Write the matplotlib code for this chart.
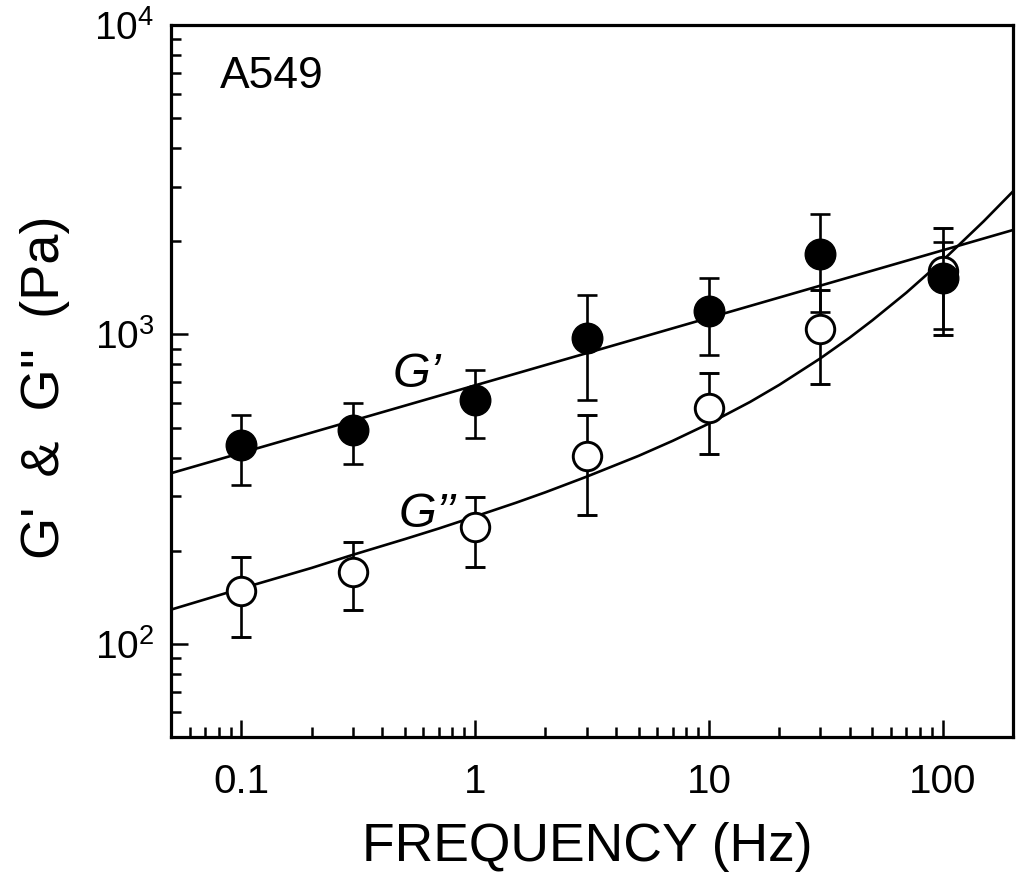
#!/usr/bin/env python3
"""A549 storage and loss modulus vs. frequency (log-log)."""

import matplotlib

matplotlib.use("Agg")
import matplotlib.pyplot as plt
from matplotlib.ticker import FixedLocator, LogLocator, NullFormatter

plt.rcParams["font.family"] = ["Liberation Sans", "DejaVu Sans"]
plt.rcParams["mathtext.default"] = "regular"

# measured points
freq = [0.1, 0.3, 1, 3, 10, 30, 100]
g_storage = [439, 491, 614, 976, 1190, 1816, 1518]
g_storage_err = [112, 110, 153, 360, 330, 630, 474]
g_loss = [148, 171, 238, 405, 580, 1039, 1607]
g_loss_err = [43, 42, 61, 145, 170, 350, 608]

# fitted curves
fit_storage_f = [0.05, 200]
fit_storage = [356, 2175]
fit_loss_f = [0.05, 0.1, 0.2, 0.3, 0.5, 0.7, 1, 1.5, 2, 3, 5, 7, 10, 15, 20, 30,
              40, 50, 70, 100, 150, 200]
fit_loss = [129, 151, 176, 194, 218, 236, 258, 286, 309, 347, 405, 453, 515, 605, 687, 837,
            976, 1110, 1365, 1733, 2323, 2899]

x_ticks = [0.1, 1, 10, 100]
x_tick_labels = ["0.1", "1", "10", "100"]
y_ticks = [1e2, 1e3, 1e4]
y_tick_labels = ["$10^2$", "$10^3$", "$10^4$"]

fig = plt.figure(figsize=(10.19, 8.73), dpi=100)
ax = fig.add_axes([171 / 1019, 1 - 737 / 873, (1013 - 171) / 1019, (737 - 25) / 873])

lw = 1.9
ax.plot(fit_storage_f, fit_storage, color="black", lw=lw, zorder=2)
ax.plot(fit_loss_f, fit_loss, color="black", lw=lw, zorder=2)

ax.errorbar(freq, g_loss, yerr=g_loss_err, fmt="o", ms=20.5, mfc="white", mec="black",
            mew=2.1, ecolor="black", elinewidth=lw, capsize=7.5, capthick=lw, zorder=3)
ax.errorbar(freq, g_storage, yerr=g_storage_err, fmt="o", ms=22, mfc="black", mec="black",
            ecolor="black", elinewidth=lw, capsize=7.5, capthick=lw, zorder=4)

ax.set_xscale("log")
ax.set_yscale("log")
ax.set_xlim(0.05, 200)
ax.set_ylim(50, 1e4)

ax.xaxis.set_major_locator(FixedLocator(x_ticks))
ax.set_xticklabels(x_tick_labels)
ax.xaxis.set_minor_locator(LogLocator(base=10, subs=range(2, 10), numticks=20))
ax.xaxis.set_minor_formatter(NullFormatter())
ax.yaxis.set_major_locator(FixedLocator(y_ticks))
ax.set_yticklabels(y_tick_labels)
ax.yaxis.set_minor_locator(LogLocator(base=10, subs=range(2, 10), numticks=20))
ax.yaxis.set_minor_formatter(NullFormatter())

ax.tick_params(which="both", direction="in", top=False, right=False, width=1.8)
ax.tick_params(which="major", length=12)
ax.tick_params(axis="x", which="major", pad=19, labelsize=29)
ax.tick_params(axis="y", which="major", pad=12, labelsize=28)
ax.tick_params(which="minor", length=7)
for spine in ax.spines.values():
    spine.set_linewidth(2.3)

ax.text(0.058, 1 - 63 / 712, "A549", transform=ax.transAxes, fontsize=32,
        ha="left", va="baseline")
ax.text(0.442, 676, "G’", fontsize=35, style="italic", ha="left", va="baseline")
ax.text(0.469, 238, "G’’", fontsize=35, style="italic", ha="left", va="baseline")

fig.text(587 / 1019, 1 - 861 / 873, "FREQUENCY (Hz)", fontsize=38.5,
         ha="center", va="baseline")
fig.text(45 / 1019, 1 - 387 / 873, "G'  &  G''  (Pa)", rotation=90, fontsize=39,
         ha="center", va="center")

fig.savefig("out.png", dpi=100)
